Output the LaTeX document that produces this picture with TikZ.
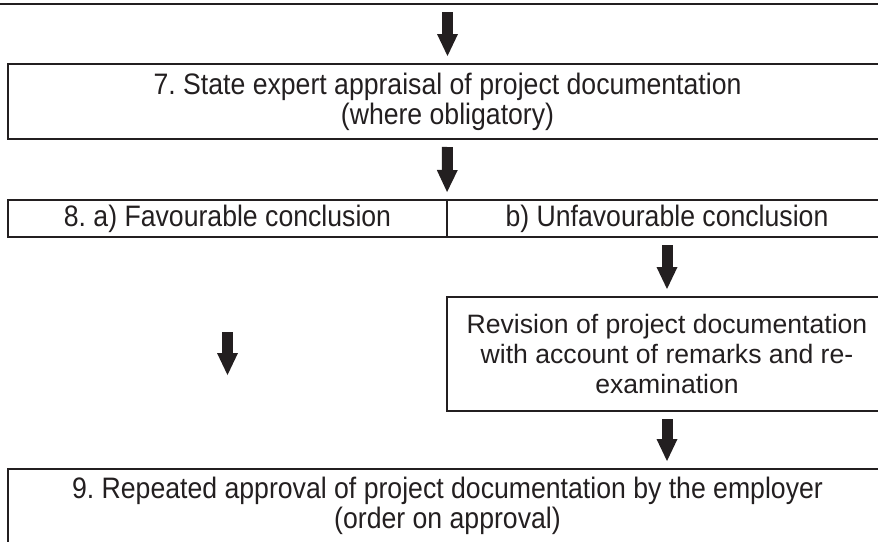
\documentclass[tikz,border=0pt]{standalone}
\usepackage{fontspec}
\setmainfont{Liberation Sans}
\newfontfamily\flownarrow[FakeStretch=0.9]{Liberation Sans}
\usetikzlibrary{arrows.meta,positioning}
\definecolor{flowink}{HTML}{231F20}
\tikzset{
  flow chart box/.style={
    draw=flowink, line width=1pt,
    inner sep=0pt, outer sep=0pt,
    align=center,
    font=\flownarrow\fontsize{14.8}{15}\selectfont\frenchspacing,
    text=flowink
  },
  flow chart note/.style={
    flow chart box,
    font=\fontsize{13.3}{15}\selectfont\frenchspacing
  },
  flow chart arrow/.style={
    -{Triangle[length=11pt,width=10.5pt,line width=0pt]},
    draw=flowink, line width=5.5pt,
    shorten <=4pt, shorten >=4pt
  }
}

\begin{document}
\begin{tikzpicture}[x=0.5pt,y=-0.5pt]
  \useasboundingbox (0,0) rectangle (878,541);

  % boxes (right edges run off the page)
  \node[flow chart box,minimum width=462.5pt,minimum height=32pt]
    (box6) at (447.5,-28) {};
  \node[flow chart box,minimum width=439.5pt,minimum height=37.5pt]
    (box7) at (447.5,101.5)
    {7. State expert appraisal of project documentation\\(where obligatory)};
  \node[flow chart box,minimum width=219.5pt,minimum height=18.5pt]
    (box8a) at (227.5,218.5) {8. a) Favourable conclusion};
  \node[flow chart box,minimum width=220pt,minimum height=18.5pt]
    (box8b) at (667,218.5) {b) Unfavourable conclusion};
  \node[flow chart note,minimum width=220pt,minimum height=57pt]
    (revision) at (667,354)
    {Revision of project documentation\\with account of remarks and re-\\examination};
  \node[flow chart box,minimum width=439.5pt,minimum height=37pt]
    (box9) at (447.5,506)
    {9. Repeated approval of project documentation by the employer\\(order on approval)};

  \coordinate (fav start) at (227.5,332);
  \coordinate (fav end) at (227.5,375);

  % arrows
  \draw[flow chart arrow] (box6.south) -- (box7.north);
  \draw[flow chart arrow] (box7.south) -- (box8a.south east |- box8a.north);
  \draw[flow chart arrow] (box8b.south) -- (revision.north);
  \draw[flow chart arrow] (revision.south) -- (revision.south |- box9.north);
  \draw[flow chart arrow,shorten <=0pt,shorten >=0pt] (fav start) -- (fav end);
\end{tikzpicture}
\end{document}
